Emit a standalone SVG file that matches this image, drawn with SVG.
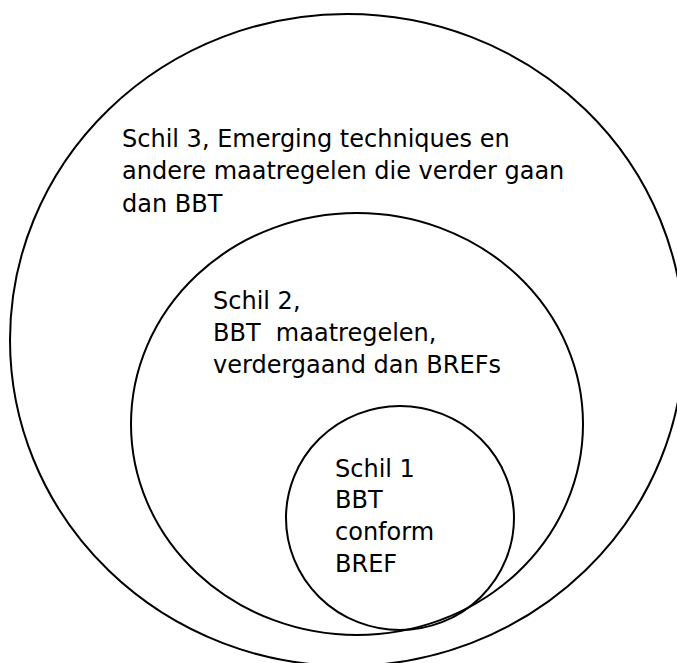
<svg xmlns="http://www.w3.org/2000/svg" width="677" height="663" viewBox="0 0 677 663">
<style>
.ring{fill:none;stroke:#000;stroke-width:2}
.lbl{font-family:"DejaVu Sans",Verdana,sans-serif;font-size:24px;fill:#000;white-space:pre}
</style>
<rect width="677" height="663" fill="#fff"/>
<g id="schil3">
<ellipse class="ring" cx="347" cy="340" rx="337" ry="326"/>
<text class="lbl" x="122" y="147">Schil 3, Emerging techniques en</text>
<text class="lbl" x="122" y="179">andere maatregelen die verder gaan</text>
<text class="lbl" x="122" y="212">dan BBT</text>
</g>
<g id="schil2">
<ellipse class="ring" cx="357" cy="424" rx="226" ry="211"/>
<text class="lbl" x="213" y="309">Schil 2,</text>
<text class="lbl" x="213" y="341" xml:space="preserve">BBT  maatregelen,</text>
<text class="lbl" x="213" y="373">verdergaand dan BREFs</text>
</g>
<g id="schil1">
<ellipse class="ring" cx="400" cy="518" rx="114" ry="112"/>
<text class="lbl" x="335" y="477">Schil 1</text>
<text class="lbl" x="335" y="508">BBT</text>
<text class="lbl" x="335" y="540">conform</text>
<text class="lbl" x="335" y="572">BREF</text>
</g>
<g id="connectors"/>
</svg>
